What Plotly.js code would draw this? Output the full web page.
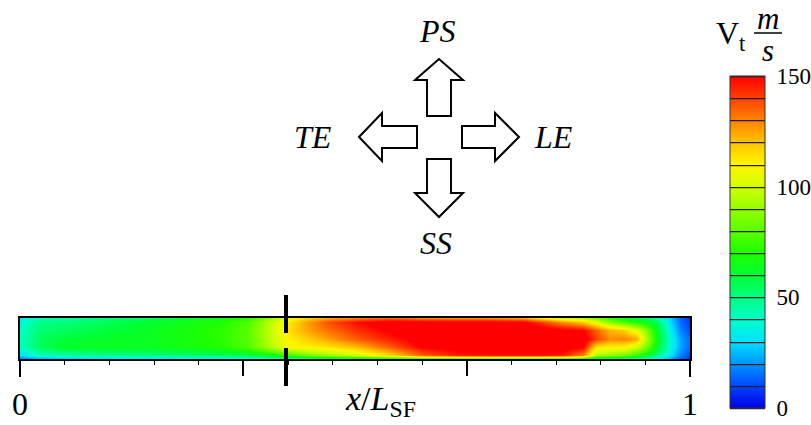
<!DOCTYPE html>
<html>
<head>
<meta charset="utf-8">
<script src="https://cdn.plot.ly/plotly-3.0.1.min.js"></script>
<style>html,body{margin:0;padding:0;background:#fff;}#chart{width:811px;height:425px;}</style>
</head>
<body>
<div id="chart"></div>
<script>
// ---- data (x/L_SF positions, cross-section positions, tangential velocity V_t in m/s) ----
const xPos = [0, 0.03, 0.07, 0.12, 0.18, 0.25, 0.30, 0.34, 0.37, 0.40, 0.43, 0.46, 0.50, 0.55, 0.60, 0.65, 0.70, 0.75, 0.78, 0.81, 0.84, 0.86, 0.88, 0.90, 0.92, 0.935, 0.95, 0.97, 0.985, 1.0];
const yPos = [0, 0.1, 0.3, 0.5, 0.7, 0.9, 1.0];
const vRow00 = [15,20,22,25,25,28,30,32,35,40,45,50,55,60,65,68,68,68,68,66,62,50,48,45,42,38,30,22,12,6];
const vRow01 = [30,42,45,48,50,52,55,58,65,75,85,92,100,115,135,145,148,148,148,145,130,95,90,85,75,65,50,32,18,10];
const vRow03 = [40,55,62,63,63,66,70,78,92,108,110,113,120,135,150,155,155,155,155,155,150,112,110,110,100,85,62,38,22,14];
const vRow05 = [42,55,60,62,63,67,72,80,95,110,118,125,135,145,155,155,155,155,155,155,155,140,128,130,125,95,65,38,22,14];
const vRow07 = [40,52,55,58,62,68,72,80,96,114,125,133,142,152,155,155,155,155,155,152,150,135,122,118,105,88,62,35,18,10];
const vRow09 = [38,50,52,55,60,66,70,78,95,112,126,138,148,155,155,155,155,152,140,128,118,105,88,78,70,65,55,30,15,8];
const vRow10 = [32,42,45,50,55,60,65,72,88,105,118,125,130,135,130,128,128,125,112,100,95,85,72,66,60,56,45,28,14,8];
const markerX = 0.397;                 // dashed marker position (x/L_SF)
const labelTicks = [0, 1];
const labelTickText = ['0', '1'];
const majorTicks = [1/3, 2/3];
const minorTicks = [1/15, 2/15, 3/15, 4/15, 6/15, 7/15, 8/15, 9/15, 11/15, 12/15, 13/15, 14/15];
const vMin = 0, vMax = 150, vStep = 10;
const cbTicks = [0, 50, 100, 150];
const csStops = [0, 0.0667, 0.1333, 0.2, 0.2667, 0.3333, 0.4, 0.4667, 0.5333, 0.6, 0.6667, 0.7333, 0.8, 0.8667, 0.9333, 1];
const csColors = ['rgb(0,0,230)','rgb(0,70,255)','rgb(0,150,255)','rgb(0,225,255)','rgb(0,255,200)','rgb(0,255,130)','rgb(0,255,50)','rgb(30,255,0)','rgb(90,255,0)','rgb(150,255,0)','rgb(210,255,0)','rgb(255,245,0)','rgb(255,195,0)','rgb(255,130,0)','rgb(255,65,0)','rgb(255,0,0)'];

const colorscale = csStops.map((s, i) => [s, csColors[i]]);
const zGrid = [vRow00, vRow01, vRow03, vRow05, vRow07, vRow09, vRow10];

// plot-area geometry helpers (pixel -> paper)
const FW = 811, FH = 425;
const L = 20, T = 318, W = 670, H = 41;
const PX = x => (x - L) / W;
const PY = y => (T + H - y) / H;
const SERIF = 'Liberation Serif, Times New Roman, serif';

const field = {
  type: 'heatmap', x: xPos, y: yPos, z: zGrid,
  zmin: vMin, zmax: vMax, colorscale: colorscale, zsmooth: 'best',
  showscale: false, hoverinfo: 'skip'
};
// contour trace only used for the banded colour bar (its data lies outside the visible x-range)
const legendTrace = {
  type: 'contour', x: [2, 3], y: [0, 1], z: [[vMin, vMax], [vMin, vMax]],
  xaxis: 'x2', yaxis: 'y',
  zmin: vMin, zmax: vMax, autocontour: false, colorscale: colorscale,
  contours: {start: vMin, end: vMax, size: vStep, coloring: 'heatmap', showlines: true},
  line: {color: '#222', width: 1.2},
  hoverinfo: 'skip',
  colorbar: {
    xref: 'container', x: 730 / FW, xanchor: 'left', xpad: 0,
    y: PY(408), yanchor: 'bottom', ypad: 0,
    len: 332, lenmode: 'pixels', thickness: 35, thicknessmode: 'pixels',
    outlinewidth: 1, outlinecolor: '#333',
    tickmode: 'array', tickvals: cbTicks,
    ticks: 'outside', ticklen: 7, tickcolor: 'rgba(0,0,0,0)',
    tickfont: {family: SERIF, size: 23, color: '#000'}
  }
};

function pathOf(pts) {
  return 'M' + pts.map(p => PX(p[0]).toFixed(5) + ',' + PY(p[1]).toFixed(5)).join(' L') + ' Z';
}
const arrowStyle = {type: 'path', xref: 'paper', yref: 'paper', line: {color: '#000', width: 2}, fillcolor: '#fff', layer: 'above'};
const shapes = [
  Object.assign({path: pathOf([[439,59],[463,80],[451,80],[451,116],[427,116],[427,80],[415,80]])}, arrowStyle),
  Object.assign({path: pathOf([[427,159],[451,159],[451,193],[463,193],[439,217],[415,193],[427,193]])}, arrowStyle),
  Object.assign({path: pathOf([[359,137],[382,113],[382,126],[417,126],[417,148],[382,148],[382,161]])}, arrowStyle),
  Object.assign({path: pathOf([[519,137],[495,113],[495,126],[462,126],[462,148],[495,148],[495,161]])}, arrowStyle),
  {type: 'line', xref: 'x', yref: 'paper', x0: markerX, x1: markerX, y0: PY(295), y1: PY(333), line: {color: '#000', width: 4}},
  {type: 'line', xref: 'x', yref: 'paper', x0: markerX, x1: markerX, y0: PY(348), y1: PY(386), line: {color: '#000', width: 4}},
  {type: 'line', xref: 'paper', yref: 'paper', x0: PX(754), x1: PX(782), y0: PY(33), y1: PY(33), line: {color: '#000', width: 1.5}}
];

function ann(text, x, y, size, extra) {
  return Object.assign({text: text, xref: 'paper', yref: 'paper', x: PX(x), y: PY(y),
    xanchor: 'center', yanchor: 'middle', showarrow: false,
    font: {family: SERIF, size: size, color: '#000'}}, extra || {});
}
const annotations = [
  ann('<i>PS</i>', 437, 31, 32),
  ann('<i>TE</i>', 313, 137, 32),
  ann('<i>LE</i>', 553, 137, 32),
  ann('<i>SS</i>', 436, 243, 32),
  ann('<i>x</i>/<i>L</i><sub>SF</sub>', 381, 401, 34),
  ann('V<sub>t</sub>', 731, 35, 32),
  ann('<i>m</i>', 768, 18, 31),
  ann('<i>s</i>', 768, 50, 31)
];

const axisLine = {showline: true, mirror: true, linecolor: '#000', linewidth: 2, showgrid: false, zeroline: false};
const layout = {
  width: FW, height: FH,
  margin: {l: L, r: FW - L - W, t: T, b: FH - T - H, pad: 0},
  paper_bgcolor: '#fff', plot_bgcolor: '#fff',
  showlegend: false,
  font: {family: SERIF, color: '#000'},
  xaxis: Object.assign({
    range: [0, 1],
    tickmode: 'array', tickvals: labelTicks, ticktext: labelTickText,
    ticks: 'outside', ticklen: 16, tickwidth: 2, tickcolor: '#000',
    tickfont: {family: SERIF, size: 32, color: '#000'},
    minor: {tickmode: 'array', tickvals: minorTicks, ticks: 'outside', ticklen: 4, tickwidth: 1, tickcolor: '#000', showgrid: false}
  }, axisLine),
  xaxis2: {
    overlaying: 'x', matches: 'x', anchor: 'y', side: 'bottom', range: [0, 1],
    showline: false, showgrid: false, zeroline: false,
    tickmode: 'array', tickvals: majorTicks, showticklabels: false,
    ticks: 'outside', ticklen: 16, tickwidth: 2, tickcolor: '#000'
  },
  yaxis: Object.assign({range: [0, 1], ticks: '', showticklabels: false}, axisLine),
  shapes: shapes,
  annotations: annotations
};

Plotly.newPlot('chart', [field, legendTrace], layout, {staticPlot: true, displayModeBar: false});
</script>
</body>
</html>
